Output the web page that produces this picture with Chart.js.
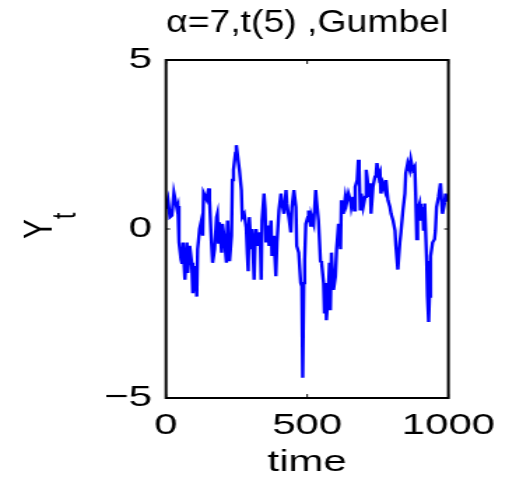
<!DOCTYPE html>
<html>
<head>
<meta charset="utf-8">
<script src="https://cdn.jsdelivr.net/npm/chart.js@4.4.0/dist/chart.umd.min.js"></script>
<style>
  html, body { margin: 0; padding: 0; background: #fff; overflow: hidden; }
  /* the reference figure is stretched sideways, so the chart is drawn narrow and scaled */
  #wrap { width: 364px; height: 481px; transform: scaleX(1.3984); transform-origin: 0 0; }
</style>
</head>
<body>
<div id="wrap"><canvas id="chart"></canvas></div>
<script>
const FONT = "'Liberation Sans', Arial, Helvetica, sans-serif";

const titleText = 'α=7,t(5) ,Gumbel';
const xLabel = 'time';
const yLabel = 'Y';
const ySubscript = 't';
const xTicks = [0, 500, 1000];
const yTicks = [-5, 0, 5];

// samples
const times = [
  0, 7, 14, 21, 28, 39, 42, 46, 53, 56, 60, 67, 74, 77, 84, 91, 95, 102, 109, 112,
  119, 126, 130, 133, 144, 151, 154, 161, 165, 172, 179, 182, 186, 189, 197, 200, 207, 214, 218, 225,
  232, 235, 239, 246, 249, 256, 260, 267, 270, 277, 284, 288, 291,
  295, 302, 305, 312, 316, 319, 326, 333, 337, 340, 347, 351, 354, 361, 365, 372, 375, 382, 389, 393,
  400, 407, 411, 418, 425, 428, 435, 442, 446, 453, 460, 463, 470, 477, 481, 484, 488, 491, 495, 502,
  505, 512, 516, 523, 530, 533, 540, 547, 551, 558, 561, 565, 568, 575, 579, 582, 586, 593, 600, 604,
  611, 618, 621, 628, 635, 639, 646, 653, 656, 663, 667, 670, 677, 681, 684, 688, 691, 698, 705, 709,
  712, 719, 723, 726, 733, 740, 744, 747, 754, 758, 761, 768, 775, 779, 786, 793, 797, 804, 811, 814,
  821, 828, 832, 839, 846, 849, 856, 863, 867, 874, 881, 884, 888, 891, 898, 902, 909, 912, 916, 923,
  926, 930, 933, 937, 944, 951, 954, 958, 965, 972, 975, 979, 986, 990, 993, 1000
];
const values = [
  0.6, 0.86, 0.35, 0.4, 1.07, 0.6, 0.68, -0.4, -0.9, -1.0, -0.4, -1.5, -0.4, -1.3, -0.5, -1.0, -1.9, -1.1, -2.0, -0.6,
  0, 0.27, -0.2, 1.07, 0.87, 1.2, 0.87, -0.4, -1.0, -0.6, 0.35, 0.45, -0.4, 0.2, -0.7, 0.15, -0.3, -1.0, 0.25, -0.95,
  -0.2, 1.45, 1.75, 2.25, 2.48, 2.0, 1.75, 1.15, 0.35, 0.45, 0.05, -0.75, -1.25,
  0.35, -0.6, 0, -1.5, -0.3, 0, -0.5, -0.1, -1.5, 0.25, 1.05, 0.6, -0.4, 0.1, -0.5, 0.25, -0.8, -0.2, -1.4, -0.4,
  0.55, 1.05, 0.75, 0.45, 1.15, 0.75, 0.35, -0.1, 0.65, 1.15, 0.65, -0.5, -0.7, -1.6, -1.7, -4.4, -1.6, -0.9, 0.15, 0.35,
  0.55, 0.1, 0.35, 0.15, 1.15, 0.85, 0.25, -0.95, -1.0, -1.6, -2.5, -1.6, -2.7, -1.8, -1.0, -2.4, -0.7, -1.8, -1.4, -0.6,
  0.15, -0.6, 0.85, 0.45, 0.95, 0.75, 1.05, 0.85, 0.65, 0.95, 0.55, 1.25, 1.45, 2.05, 1.75, 0.55, 1.05, 0.65, 0.95, 1.75,
  1.55, 0.95, 1.35, 0.45, 1.25, 1.55, 1.65, 1.95, 1.55, 1.65, 1.05, 1.35, 1.15, 1.45, 0.85, 0.65, 0.45, 0.25, -0.05, -0.5,
  -1.2, -0.4, -0.1, 0.55, 1.05, 1.65, 1.95, 1.75, 2.05, 1.75, 1.85, 1.05, -0.3, 0.55, 0.75, 0.25, 0.65, -0.05, 0.75, -0.95,
  -2.0, -2.75, -2.0, -0.8, -0.4, -0.3, -0.05, 0.65, 0.95, 1.35, 0.95, 0.45, 0.75, 1.05, 0.85, 0.9
];

// box round the axes, inward tick marks and the subscript of the y label
const matlabFrame = {
  id: 'matlabFrame',
  afterDraw(chart) {
    const { ctx, chartArea: a, scales: { x, y } } = chart;
    ctx.save();
    ctx.strokeStyle = '#000';
    ctx.lineWidth = 2;
    ctx.strokeRect(a.left, a.top, a.right - a.left, a.bottom - a.top);
    ctx.lineWidth = 1;
    ctx.beginPath();
    xTicks.forEach(v => {
      const px = x.getPixelForValue(v);
      ctx.moveTo(px, a.bottom); ctx.lineTo(px, a.bottom - 4);
      ctx.moveTo(px, a.top); ctx.lineTo(px, a.top + 4);
    });
    yTicks.forEach(v => {
      const py = y.getPixelForValue(v);
      ctx.moveTo(a.left, py); ctx.lineTo(a.left + 3, py);
      ctx.moveTo(a.right, py); ctx.lineTo(a.right - 3, py);
    });
    ctx.stroke();

    const tx = y.left + 18 + 4;
    const ty = (a.top + a.bottom) / 2;
    ctx.translate(tx, ty);
    ctx.rotate(-Math.PI / 2);
    ctx.font = '30px ' + FONT;
    const w = ctx.measureText(yLabel).width;
    ctx.font = '23px ' + FONT;
    ctx.fillStyle = '#000';
    ctx.textAlign = 'left';
    ctx.textBaseline = 'alphabetic';
    ctx.fillText(ySubscript, w / 2, 25);
    ctx.restore();
  }
};

const tickFont = { family: FONT, size: 30 };

new Chart(document.getElementById('chart'), {
  type: 'line',
  data: {
    datasets: [{
      data: times.map((t, i) => ({ x: t, y: values[i] })),
      borderColor: '#0000ff',
      borderWidth: 2.4,
      pointRadius: 0,
      fill: false,
      tension: 0
    }]
  },
  options: {
    responsive: true,
    maintainAspectRatio: false,
    animation: false,
    layout: { padding: { left: 6.6, right: 41.5, top: 0, bottom: 0 } },
    plugins: {
      legend: { display: false },
      tooltip: { enabled: false },
      title: {
        display: true,
        fullSize: false,
        text: titleText,
        color: '#000',
        font: { family: FONT, size: 31, weight: 'normal' },
        padding: { top: 5, bottom: 17.8 }
      }
    },
    scales: {
      x: {
        type: 'linear',
        min: 0,
        max: 1000,
        grid: { display: false, drawTicks: false },
        border: { display: false },
        afterBuildTicks: s => { s.ticks = xTicks.map(v => ({ value: v })); },
        afterFit: s => { s.height = 83; },
        ticks: {
          padding: 10, color: '#000', font: tickFont, maxRotation: 0, autoSkip: false,
          callback: v => String(v)
        },
        title: { display: true, text: xLabel, color: '#000', font: tickFont, padding: { top: 0, bottom: 0 } }
      },
      y: {
        type: 'linear',
        min: -5,
        max: 5,
        grid: { display: false, drawTicks: false },
        border: { display: false },
        afterBuildTicks: s => { s.ticks = yTicks.map(v => ({ value: v })); },
        afterFit: s => { s.width = 112.1; },
        ticks: {
          padding: 10, color: '#000', font: tickFont, autoSkip: false,
          callback: v => (v < 0 ? '\u2212' + Math.abs(v) : String(v))
        },
        title: { display: true, text: yLabel, color: '#000', font: tickFont, padding: { top: 4, bottom: 4 } }
      }
    }
  },
  plugins: [matlabFrame]
});
</script>
</body>
</html>
